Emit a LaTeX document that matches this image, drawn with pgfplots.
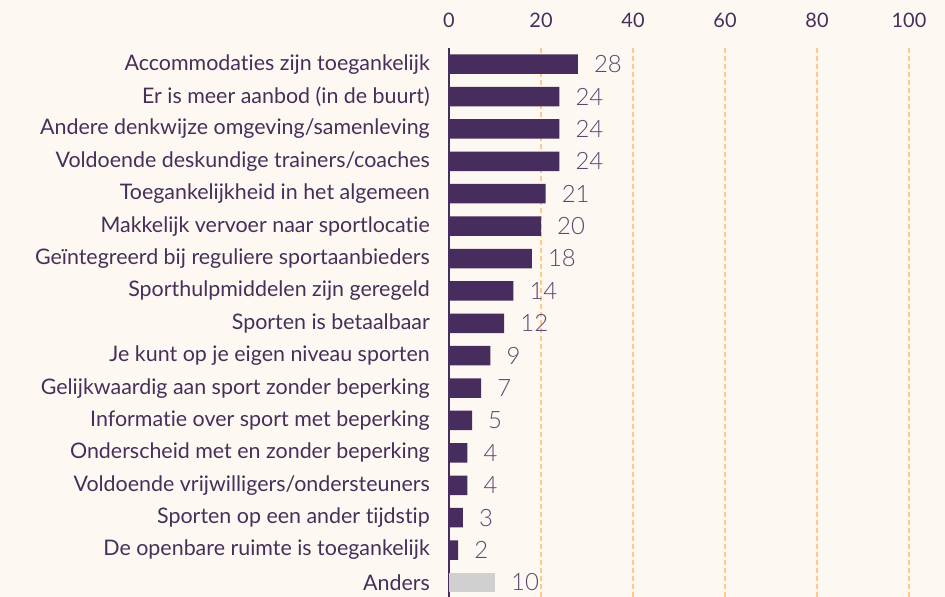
\documentclass[border=0pt]{standalone}
\usepackage{fontspec}
\setmainfont{Lato}[Ligatures={NoCommon}]
\newfontfamily\latolight{Lato Light}
\usepackage{pgfplots}
\pgfplotsset{compat=1.18}
\definecolor{bg}{HTML}{FEF8F2}
\definecolor{barc}{HTML}{472C5E}
\definecolor{txt}{HTML}{46305A}
\definecolor{vallab}{HTML}{5A4670}
\definecolor{gridc}{HTML}{FFC98E}
\definecolor{grayb}{HTML}{D0D0D0}
\begin{document}
\begin{tikzpicture}[x=1bp,y=1bp]
\fill[bg] (0,0) rectangle (945,597);
\begin{axis}[
  at={(449bp,0bp)}, anchor=south west,
  scale only axis, width=460bp, height=549bp,
  xmin=0, xmax=100, ymin=-0.5, ymax=16.45,
  y dir=reverse,
  axis x line*=top, axis y line*=left,
  x axis line style={draw=none},
  y axis line style={draw=barc, line width=1.3bp},
  xtick={0,20,40,60,80,100},
  ytick={0,...,16},
  yticklabels={Accommodaties zijn toegankelijk,Er is meer aanbod (in de buurt),Andere denkwijze omgeving/samenleving,Voldoende deskundige trainers/coaches,Toegankelijkheid in het algemeen,Makkelijk vervoer naar sportlocatie,Geïntegreerd bij reguliere sportaanbieders,Sporthulpmiddelen zijn geregeld,Sporten is betaalbaar,Je kunt op je eigen niveau sporten,Gelijkwaardig aan sport zonder beperking,Informatie over sport met beperking,Onderscheid met en zonder beperking,Voldoende vrijwilligers/ondersteuners,Sporten op een ander tijdstip,De openbare ruimte is toegankelijk,Anders},
  major tick length=0pt,
  xmajorgrids,
  grid style={draw=gridc, line width=1.3bp, dash pattern=on 5bp off 3bp},
  xticklabel style={font=\fontsize{20}{20}\selectfont, text=txt, inner sep=0pt, anchor=south, yshift=20bp},
  yticklabel style={font=\fontsize{21.5}{21.5}\selectfont, text=txt, inner sep=0pt, anchor=east, xshift=-19bp},
  /pgf/number format/assume math mode=true,
  xbar, bar width=19.5bp, bar shift=0pt,
  nodes near coords,
  nodes near coords style={font=\latolight\fontsize{24}{24}\selectfont, text=vallab, anchor=west, inner sep=0pt, xshift=16bp},
  clip=false,
]
\addplot[fill=barc, draw=none] coordinates {
(28,0) (24,1) (24,2) (24,3) (21,4) (20,5) (18,6) (14,7) (12,8) (9,9) (7,10) (5,11) (4,12) (4,13) (3,14) (2,15)};
\addplot[fill=grayb, draw=none] coordinates {(10,16)};
\end{axis}
\pgfresetboundingbox
\useasboundingbox (0,0) rectangle (945,597);
\end{tikzpicture}
\end{document}
